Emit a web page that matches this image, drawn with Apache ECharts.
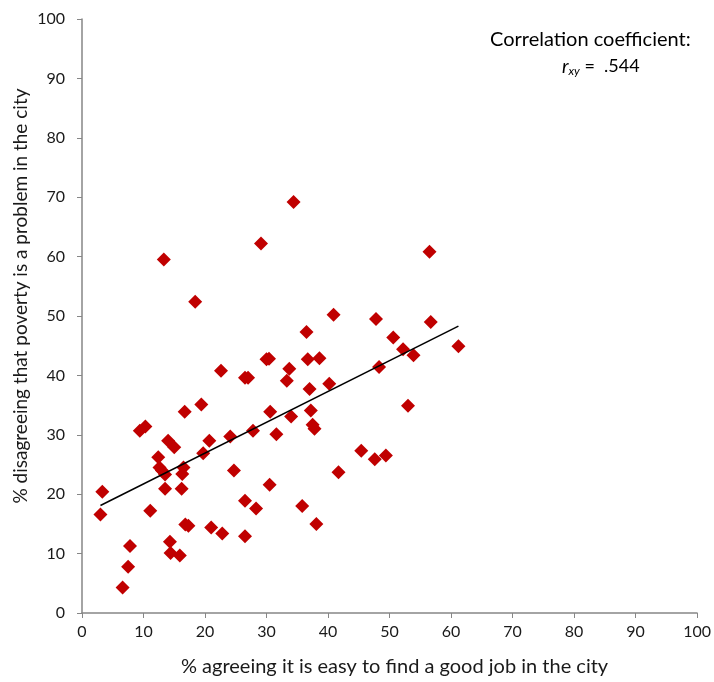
<!DOCTYPE html>
<html>
<head>
<meta charset="utf-8">
<script src="https://cdn.jsdelivr.net/npm/echarts@6/dist/echarts.min.js"></script>
<style>html,body{margin:0;padding:0;background:#fff}#c{width:714px;height:682px}</style>
</head>
<body>
<div id="c"></div>
<script>
var xValues = [3.3, 3.0, 11.1, 7.8, 7.5, 6.6, 9.4, 10.3, 12.4, 14.0, 15.0, 16.7, 19.4, 12.6, 13.0, 13.5, 16.5, 16.3, 13.5, 16.2, 19.7, 20.7, 24.1, 27.8, 30.6, 31.6, 34.0, 24.7, 30.5, 26.5, 28.3, 16.8, 17.3, 21.0, 22.8, 26.5, 14.3, 14.4, 15.9, 34.4, 29.1, 13.3, 18.4, 22.6, 26.5, 27.0, 30.0, 30.4, 33.7, 33.3, 56.5, 40.9, 47.8, 56.7, 36.5, 50.6, 36.7, 38.6, 52.2, 53.9, 61.2, 48.3, 37.0, 40.2, 37.2, 37.5, 37.8, 53.0, 45.4, 47.6, 49.4, 41.7, 35.8, 38.1];
var yValues = [20.4, 16.6, 17.2, 11.3, 7.8, 4.3, 30.7, 31.4, 26.2, 29.0, 27.9, 33.9, 35.1, 24.5, 24.0, 23.3, 24.5, 23.4, 20.9, 20.9, 26.9, 29.0, 29.7, 30.7, 33.9, 30.1, 33.1, 24.0, 21.6, 18.9, 17.6, 14.9, 14.7, 14.4, 13.4, 12.9, 12.0, 10.1, 9.7, 69.2, 62.2, 59.5, 52.4, 40.8, 39.6, 39.6, 42.7, 42.8, 41.1, 39.1, 60.8, 50.2, 49.5, 49.0, 47.3, 46.4, 42.7, 42.9, 44.4, 43.4, 44.9, 41.4, 37.7, 38.6, 34.1, 31.7, 31.0, 34.9, 27.3, 25.9, 26.5, 23.7, 18.0, 15.0];
var trendX = [3.0, 61.2];
var trendY = [18.1, 48.3];
var xTicks = [0, 10, 20, 30, 40, 50, 60, 70, 80, 90, 100];
var yTicks = [0, 10, 20, 30, 40, 50, 60, 70, 80, 90, 100];
var xTitle = '% agreeing it is easy to find a good job in the city';
var yTitle = '% disagreeing that poverty is a problem in the city';
var noteLine1 = 'Correlation coefficient:';
var noteValue = '.544';

var points = xValues.map(function (x, i) { return [x, yValues[i]]; });
var trend = trendX.map(function (x, i) { return [x, trendY[i]]; });
var FONT = 'Lato, "Open Sans", sans-serif';
var axisGray = '#868686';
var txt = '#1a1a1a';

var chart = echarts.init(document.getElementById('c'), null, { renderer: 'canvas' });
chart.setOption({
  backgroundColor: '#fff',
  animation: false,
  grid: { left: 82, right: 15, top: 19, bottom: 66 },
  xAxis: {
    type: 'value', min: xTicks[0], max: xTicks[xTicks.length - 1], interval: 10,
    name: xTitle, nameLocation: 'middle', nameGap: 44,
    nameTextStyle: { fontFamily: FONT, fontSize: 20, color: txt, padding: [0, 0, 0, 10] },
    axisLine: { lineStyle: { color: axisGray, width: 1.5 } },
    axisTick: { show: true, length: 5, lineStyle: { color: axisGray } },
    axisLabel: { fontFamily: FONT, fontSize: 16, color: txt, margin: 11 },
    splitLine: { show: false }
  },
  yAxis: {
    type: 'value', min: yTicks[0], max: yTicks[yTicks.length - 1], interval: 10,
    axisLine: { show: true, lineStyle: { color: axisGray, width: 1.5 } },
    axisTick: { show: true, length: 5, lineStyle: { color: axisGray } },
    axisLabel: { fontFamily: FONT, fontSize: 16, color: txt, margin: 17 },
    splitLine: { show: false }
  },
  graphic: [{
    type: 'text', x: 21, y: 296, rotation: Math.PI / 2,
    style: { text: yTitle, font: '19px ' + FONT, fill: txt, align: 'center', verticalAlign: 'middle' }
  }, {
    type: 'text', left: 490, top: 30,
    style: { text: noteLine1, font: '20px ' + FONT, fill: '#000' }
  }, {
    type: 'text', left: 562, top: 57,
    style: {
      text: '{r|r}{s|xy}{t| =  ' + noteValue + '}',
      rich: {
        r: { fontFamily: FONT, fontSize: 19, fontStyle: 'italic', color: '#000' },
        s: { fontFamily: FONT, fontSize: 12, fontStyle: 'italic', color: '#000', padding: [9, 0, 0, 0] },
        t: { fontFamily: FONT, fontSize: 18, color: '#000' }
      }
    }
  }],
  series: [{
    type: 'scatter', data: points, symbol: 'diamond', symbolSize: 14,
    itemStyle: { color: '#C00000', opacity: 1 }, z: 3
  }, {
    type: 'line', data: trend, symbol: 'none', z: 4,
    lineStyle: { color: '#000', width: 1.5 }
  }]
});
</script>
</body>
</html>
